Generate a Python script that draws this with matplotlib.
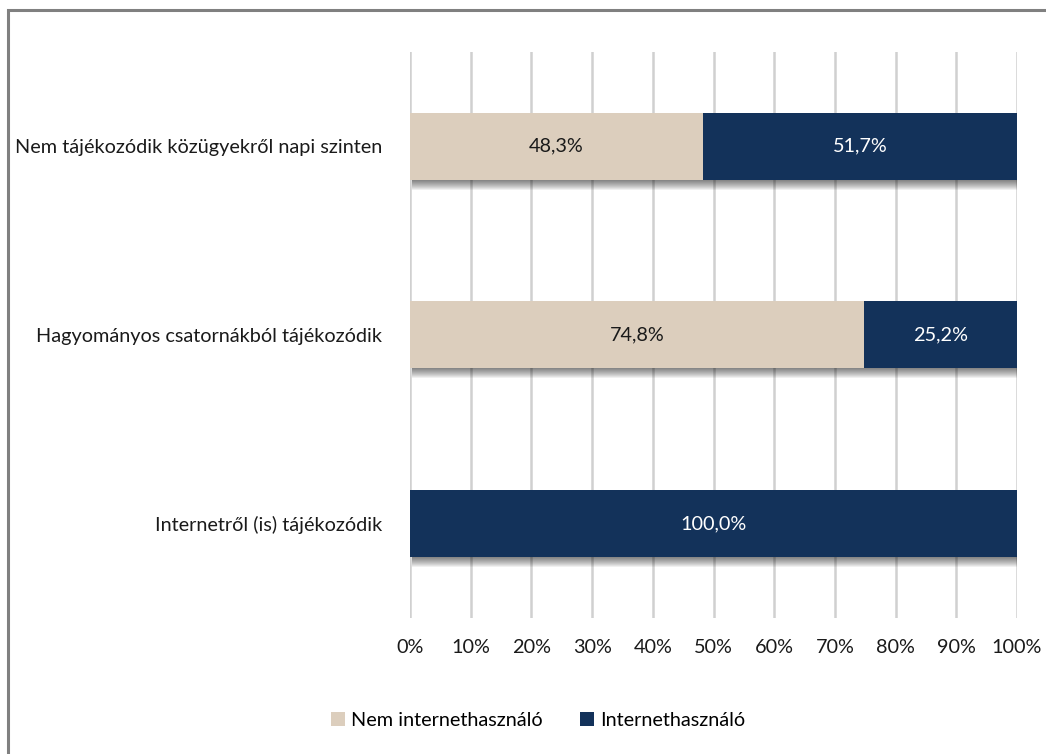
import matplotlib
matplotlib.use("Agg")
import matplotlib.pyplot as plt
from matplotlib.patches import Rectangle, Patch
import numpy as np

categories = ["Nem tájékozódik közügyekről napi szinten",
              "Hagyományos csatornákból tájékozódik",
              "Internetről (is) tájékozódik"]
nem_internet = [48.3, 74.8, 0.0]
internet = [51.7, 25.2, 100.0]
series_names = ["Nem internethasználó", "Internethasználó"]
xticks = [0, 10, 20, 30, 40, 50, 60, 70, 80, 90, 100]

c_beige = "#DCCEBD"
c_navy = "#13325A"
FONT = "Lato"
FS = 14.3

fig = plt.figure(figsize=(10.46, 7.54), dpi=100)
fig.patches.append(Rectangle((8/1046, -0.1), 1.2, 1 - 10/754 + 0.1, transform=fig.transFigure,
                             fill=False, edgecolor="#808080", linewidth=2.2, zorder=0))

ax = fig.add_axes([410/1046, 1 - 617.75/754, (1017 - 410)/1046, (617.75 - 52)/754])
y = np.arange(len(categories))
h = 0.355
px = 1 / 188.5
totals = [a + b for a, b in zip(nem_internet, internet)]

# soft drop shadow below bars
for k in range(1, 11):
    ax.barh(y + k * px, totals, height=h, left=0.35,
            color="#000000", alpha=0.06, zorder=2, linewidth=0)

ax.barh(y, nem_internet, height=h, color=c_beige, zorder=3, label=series_names[0])
ax.barh(y, internet, left=nem_internet, height=h, color=c_navy, zorder=3, label=series_names[1])

for i in range(len(categories)):
    if nem_internet[i] > 0:
        ax.text(nem_internet[i] / 2, y[i], f"{nem_internet[i]:.1f}%".replace(".", ","),
                ha="center", va="center", color="#1a1a1a", fontsize=FS, family=FONT, zorder=4)
    if internet[i] > 0:
        ax.text(nem_internet[i] + internet[i] / 2, y[i], f"{internet[i]:.1f}%".replace(".", ","),
                ha="center", va="center", color="white", fontsize=FS, family=FONT, zorder=4)

ax.set_xlim(0, 100)
ax.set_ylim(2.5, -0.5)
ax.set_xticks(xticks)
ax.set_xticklabels([f"{t}%" for t in xticks], fontsize=FS, family=FONT, color="#1a1a1a")
ax.set_yticks(y)
ax.set_yticklabels(categories, fontsize=FS, family=FONT, color="#1a1a1a")
ax.tick_params(axis="both", length=0)
ax.tick_params(axis="x", pad=15)
ax.tick_params(axis="y", pad=20)
ax.grid(axis="x", color="#D0D0D0", linewidth=1.8, zorder=0)
ax.set_axisbelow(True)
for s in ax.spines.values():
    s.set_visible(False)

handles = [Patch(facecolor=c_beige), Patch(facecolor=c_navy)]
fig.legend(handles, series_names, loc="center", bbox_to_anchor=(538/1046, 1 - 720/754), ncol=2,
           frameon=False, prop={"family": FONT, "size": FS}, handlelength=0.7, handleheight=0.7,
           handletextpad=0.3, columnspacing=1.9)

fig.savefig("out.png", dpi=100)
